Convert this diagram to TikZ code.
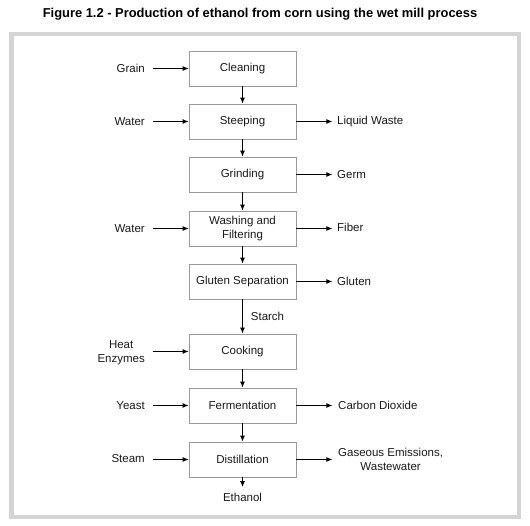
\documentclass[tikz,border=0pt]{standalone}
\usepackage{fontspec}
\setmainfont{Liberation Sans}
\usetikzlibrary{arrows.meta}
\definecolor{framegray}{HTML}{D4D4D4}
\definecolor{boxgray}{HTML}{9A9A9A}
\definecolor{txt}{HTML}{1A1A1A}
\begin{document}
\begin{tikzpicture}[x=1pt,y=-1pt,
  stepbox/.style={draw=boxgray,line width=0.8pt,minimum width=107pt,minimum height=35pt,inner sep=0pt,align=center,font=\fontsize{11.5}{14}\selectfont,text=txt},
  lbl/.style={inner sep=0pt,font=\fontsize{11.5}{14}\selectfont,text=txt,align=center},
  flow/.style={-{Latex[length=6pt,width=5pt]},line width=0.9pt,black}]
\useasboundingbox (0,0) rectangle (530,526);
\fill[white] (0,0) rectangle (530,526);
\draw[framegray,line width=4.5pt] (11.25,34.25) rectangle (518.75,516.75);
\node[inner sep=0pt,font=\bfseries\fontsize{12.9}{15}\selectfont,text=black] (title) at (260,14) {Figure 1.2 - Production of ethanol from corn using the wet mill process};

\node[stepbox] (clean) at (242.5,68.5) {Cleaning};
\node[stepbox] (steep) at (242.5,121.5) {Steeping};
\node[stepbox] (grind) at (242.5,174.5) {Grinding};
\node[stepbox] (wash) at (242.5,228.5) {Washing and\\Filtering};
\node[stepbox] (gluten) at (242.5,281.5) {Gluten Separation};
\node[stepbox] (cook) at (242.5,351.5) {Cooking};
\node[stepbox] (ferm) at (242.5,405.5) {Fermentation};
\node[stepbox] (dist) at (242.5,459.5) {Distillation};

% left inputs
\node[lbl,anchor=east] (grain) at (145,68.5) {Grain};
\node[lbl,anchor=east] (water1) at (145,121.5) {Water};
\node[lbl,anchor=east] (water2) at (145,228.5) {Water};
\node[lbl,anchor=east] (heat) at (145,352.5) {Heat\\Enzymes};
\node[lbl,anchor=east] (yeast) at (145,405.5) {Yeast};
\node[lbl,anchor=east] (steam) at (145,458.5) {Steam};

% right outputs
\node[lbl,anchor=west] (liquid) at (337,121.5) {Liquid Waste};
\node[lbl,anchor=west] (germ) at (337,174.5) {Germ};
\node[lbl,anchor=west] (fiber) at (337,227.5) {Fiber};
\node[lbl,anchor=west] (glu) at (337,281) {Gluten};
\node[lbl,anchor=west] (co2) at (338,405.5) {Carbon Dioxide};
\node[lbl,anchor=west] (gas) at (338,459) {Gaseous Emissions,\\Wastewater};

\node[lbl] (starch) at (267.5,316.5) {Starch};
\node[lbl] (eth) at (242.5,497) {Ethanol};
\coordinate (ethin) at (242.5,487);

% vertical flow
\draw[flow] (clean) -- (steep);
\draw[flow] (steep) -- (grind);
\draw[flow] (grind) -- (wash);
\draw[flow] (wash) -- (gluten);
\draw[flow] (gluten) -- (cook);
\draw[flow] (cook) -- (ferm);
\draw[flow] (ferm) -- (dist);
\draw[flow] (dist) -- (ethin);

% inputs
\draw[flow] ([xshift=-36pt]clean.west) -- (clean.west);
\draw[flow] ([xshift=-36pt]steep.west) -- (steep.west);
\draw[flow] ([xshift=-36pt]wash.west) -- (wash.west);
\draw[flow] ([xshift=-36pt]cook.west) -- (cook.west);
\draw[flow] ([xshift=-36pt]ferm.west) -- (ferm.west);
\draw[flow] ([xshift=-36pt]dist.west) -- (dist.west);

% outputs
\draw[flow] (steep.east) -- ++(36,0) coordinate (c1);
\draw[flow] (grind.east) -- ++(36,0) coordinate (c2);
\draw[flow] (wash.east) -- ++(36,0) coordinate (c3);
\draw[flow] (gluten.east) -- ++(36,0) coordinate (c4);
\draw[flow] (ferm.east) -- ++(36,0) coordinate (c5);
\draw[flow] (dist.east) -- ++(36,0) coordinate (c6);
\end{tikzpicture}
\end{document}
